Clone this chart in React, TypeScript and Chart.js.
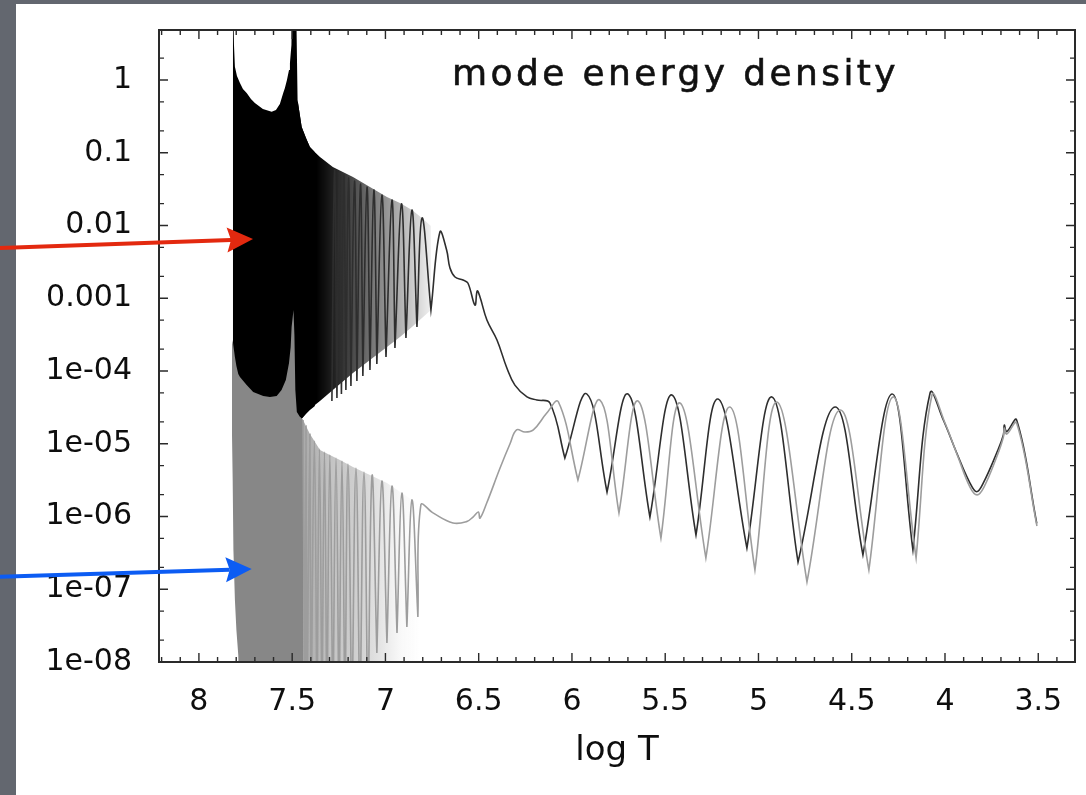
import { useEffect, useRef } from 'react';
import { Chart, registerables } from 'chart.js';

Chart.register(...registerables);

// ---------- axes ----------
const X_MIN = 3.303;
const X_MAX = 8.214;
const Y_MIN = 1e-8;
const Y_MAX = 4.87;
const xTickValues = [8, 7.5, 7, 6.5, 6, 5.5, 5, 4.5, 4, 3.5];
const xTickLabels = ['8', '7.5', '7', '6.5', '6', '5.5', '5', '4.5', '4', '3.5'];
const yTickValues = [1e-8, 1e-7, 1e-6, 1e-5, 1e-4, 1e-3, 1e-2, 1e-1, 1];
const yTickLabels = ['1e-08', '1e-07', '1e-06', '1e-05', '1e-04', '0.001', '0.01', '0.1', '1'];

// off-scale sentinels (clipped by the chart area)
const ABOVE = 20;
const BELOW = 1e-9;

// ---------- black mode: unresolved (dense) band ----------
const blackDenseX = [7.818, 7.812, 7.807, 7.796, 7.780, 7.764, 7.744, 7.721, 7.700, 7.657, 7.610, 7.587, 7.566,
  7.548, 7.539, 7.528, 7.517, 7.512, 7.504, 7.500, 7.480, 7.471, 7.449, 7.426, 7.405, 7.378];
const blackDenseTop = [ABOVE, 3.03, 1.52, 1.135, 0.91, 0.752, 0.662, 0.548, 0.483, 0.399, 0.366, 0.387, 0.468,
  0.662, 0.776, 1.0, 1.37, 1.71, 3.03, ABOVE, ABOVE, 0.531, 0.226, 0.160, 0.120, 0.102];
const blackDenseBottom = [1.13e-5, 1.13e-5, 1.13e-5, 1.13e-5, 1.13e-5, 1.13e-5, 1.13e-5, 1.13e-5, 1.13e-5, 1.13e-5,
  1.13e-5, 1.13e-5, 1.13e-5, 1.13e-5, 1.13e-5, 1.13e-5, 1.13e-5, 1.13e-5, 1.13e-5, 1.13e-5, 1.13e-5,
  1.81e-5, 2.2e-5, 2.56e-5, 2.91e-5, 3.30e-5];

// ---------- black mode: partly resolved band (envelopes) ----------
const blackFadeX = [7.471, 7.449, 7.426, 7.405, 7.378, 7.351, 7.282, 7.174, 7.083, 6.992, 6.922, 6.858, 6.804, 6.756];
const blackFadeTop = [0.531, 0.226, 0.160, 0.120, 0.102, 0.0875, 0.0637, 0.0465, 0.0338, 0.0247, 0.0204, 0.0163, 0.0127, 0.00984];
const blackFadeBottom = [2.26e-5, 2.2e-5, 2.65e-5, 2.96e-5, 3.41e-5, 3.87e-5, 5.5e-5, 9.4e-5, 1.42e-4, 2.14e-4, 2.93e-4,
  4.03e-4, 5.36e-4, 6.89e-4];

// ---------- black mode: resolved curve ----------
const blackLineX = [7.287, 7.273, 7.260, 7.247, 7.236, 7.223, 7.212, 7.198, 7.185, 7.166, 7.153, 7.134, 7.121, 7.099,
  7.083, 7.062, 7.046, 7.019, 6.997, 6.965, 6.949, 6.914, 6.890, 6.858, 6.831, 6.804, 6.756, 6.708,
  6.672, 6.654, 6.627, 6.584, 6.558, 6.520, 6.508, 6.493, 6.456, 6.402, 6.349, 6.306, 6.241, 6.188, 6.118,
  6.038, 5.920, 5.812, 5.700, 5.582, 5.464, 5.335, 5.217, 5.062, 4.928, 4.788, 4.590, 4.440, 4.284, 4.172, 4.080,
  4.009, 3.937, 3.866, 3.830, 3.795, 3.723, 3.687, 3.682, 3.669, 3.616, 3.508];
const blackLineY = [3.87e-5, 0.0580, 4.26e-5, 0.0527, 4.83e-5, 0.0494, 5.5e-5, 0.0450, 6.22e-5, 0.0409, 7.30e-5, 0.0372,
  8.53e-5, 0.0338, 1.03e-4, 0.0308, 1.25e-4, 0.0262, 1.56e-4, 0.0224, 2.07e-4, 0.0198, 2.84e-4, 0.0163, 4.03e-4,
  0.0127, 6.89e-4, 0.00815,
  0.0046, 0.0026, 0.00196, 0.00178, 0.00162, 8.07e-4, 0.00126, 0.00104, 5.02e-4, 2.67e-4, 1.10e-4, 6.4e-5, 4.40e-5,
  3.99e-5, 3.63e-5,
  6.37e-6, 4.83e-5, 2.17e-6, 4.83e-5, 9.84e-7, 4.68e-5, 5.57e-7, 4.12e-5, 3.69e-7, 4.40e-5, 2.37e-7, 3.20e-5,
  2.96e-7, 4.83e-5, 3.47e-7, 4.99e-5,
  2.12e-5, 7.46e-6, 2.88e-6, 2.19e-6, 2.88e-6, 7.46e-6, 1.32e-5, 1.81e-5, 1.47e-5, 2.12e-5, 8.07e-7];

// ---------- gray mode: unresolved (dense) band ----------
const grayDenseX = [7.823, 7.819, 7.815, 7.807, 7.799, 7.789, 7.780, 7.744, 7.709, 7.655, 7.619, 7.583, 7.557, 7.534,
  7.517, 7.508, 7.503, 7.493, 7.488, 7.483, 7.475, 7.458, 7.442];
const grayDenseTop = [2.27e-4, 2.67e-4, 2.21e-4, 1.56e-4, 1.17e-4, 9.1e-5, 8.3e-5, 6.4e-5, 5.14e-5, 4.53e-5, 4.40e-5,
  4.53e-5, 5.5e-5, 7.5e-5, 1.29e-4, 2.14e-4, 4.03e-4, 6.89e-4, 3.13e-4, 5.5e-5, 2.73e-5, 2.33e-5, 2.12e-5];
const grayDenseBottom = [1.55e-5, 3.18e-6, 3.47e-7, 7.1e-8, 2.75e-8, 1.25e-8, BELOW, BELOW, BELOW, BELOW, BELOW, BELOW,
  BELOW, BELOW, BELOW, BELOW, BELOW, BELOW, BELOW, BELOW, BELOW, BELOW, BELOW];

// ---------- gray mode: partly resolved band ----------
const grayFadeX = [7.458, 7.442, 7.426, 7.405, 7.381, 7.351, 7.298, 7.244, 7.174, 7.083, 6.992, 6.912, 6.831, 6.810];
const grayFadeTop = [2.33e-5, 2.12e-5, 1.75e-5, 1.36e-5, 1.09e-5, 8.2e-6, 7.0e-6, 5.98e-6, 4.79e-6, 3.72e-6, 2.88e-6,
  2.10e-6, 1.53e-6, 1.44e-6];
const grayFadeBottom = [BELOW, BELOW, BELOW, BELOW, BELOW, BELOW, BELOW, BELOW, BELOW, BELOW, BELOW, BELOW, BELOW, BELOW];

// ---------- gray mode: resolved curve ----------
const grayLineX = [7.442, 7.432, 7.426, 7.421, 7.405, 7.399, 7.381, 7.367, 7.354, 7.340, 7.327, 7.314, 7.298, 7.282,
  7.265, 7.249, 7.233, 7.217, 7.201, 7.180, 7.158, 7.137, 7.115, 7.094, 7.072, 7.046, 7.019, 6.992, 6.965, 6.938,
  6.912, 6.885, 6.858, 6.826, 6.810,
  6.745, 6.638, 6.565, 6.529, 6.502, 6.493, 6.457, 6.386, 6.332, 6.297, 6.252, 6.207, 6.136, 6.073,
  5.968, 5.850, 5.748, 5.646, 5.523, 5.421, 5.282, 5.153, 5.019, 4.901, 4.740, 4.563, 4.408, 4.279, 4.155, 4.070,
  4.000, 3.930, 3.866, 3.828, 3.791, 3.721, 3.687, 3.682, 3.669, 3.616, 3.507];
const grayLineY = [2.12e-5, BELOW, 1.75e-5, BELOW, 1.36e-5, BELOW, 1.09e-5, BELOW, 8.47e-6, BELOW, 7.71e-6, BELOW,
  7.0e-6, BELOW, 6.37e-6, BELOW, 5.80e-6, BELOW, 5.27e-6, BELOW, 4.65e-6, BELOW, 4.09e-6, BELOW, 3.61e-6, 1.33e-8,
  3.08e-6, 1.82e-8, 2.62e-6, 2.51e-8, 2.10e-6, 3.03e-8, 1.69e-6, 4.16e-8, 1.44e-6,
  1.12e-6, 8.15e-7, 8.5e-7, 9.9e-7, 1.15e-6, 9.5e-7, 1.53e-6, 4.6e-6, 1.0e-5, 1.55e-5, 1.45e-5, 1.55e-5, 2.62e-5, 3.78e-5,
  3.18e-6, 3.99e-5, 1.12e-6, 3.87e-5, 5.06e-7, 3.63e-5, 2.69e-7, 3.20e-5, 1.84e-7, 3.75e-5, 1.26e-7, 2.91e-5,
  1.84e-7, 4.40e-5, 2.69e-7, 4.68e-5,
  1.93e-5, 6.58e-6, 2.54e-6, 1.98e-6, 2.54e-6, 6.79e-6, 1.24e-5, 1.64e-5, 1.36e-5, 1.93e-5, 7.4e-7];

// ---------- arrows (tip / tail in data units) ----------
const arrowTipX = [7.71, 7.717];
const arrowTipY = [6.5e-3, 1.9e-7];
const arrowTailX = [9.07, 9.07];
const arrowTailY = [4.9e-3, 1.49e-7];
const arrowColors = ['#e3290f', '#0c5cf3'];

// fade stops for partly resolved bands: [x, alpha]
const blackFadeStops = [[7.47, 1], [7.37, 1], [7.24, 0.82], [7.08, 0.55], [6.92, 0.3], [6.756, 0.06]];
const grayFadeStops = [[7.458, 1], [7.437, 0.7], [7.298, 0.5], [7.137, 0.38], [7.03, 0.22], [6.922, 0.06], [6.815, 0]];

const FONT = '"DejaVu Sans", "Liberation Sans", sans-serif';

type P = { x: number; y: number };
const pts = (xs: number[], ys: number[]): P[] => xs.map((x, i) => ({ x, y: ys[i] }));

// sharp troughs: repeat the trough point so the spline keeps a cusp there
function withCusps(xs: number[], ys: number[]): P[] {
  const out: P[] = [];
  for (let i = 0; i < xs.length; i++) {
    out.push({ x: xs[i], y: ys[i] });
    if (i > 0 && i < xs.length - 1 && ys[i] * 2.5 < ys[i - 1] && ys[i] * 2.5 < ys[i + 1]) {
      out.push({ x: xs[i], y: ys[i] });
    }
  }
  return out;
}

function fadeColor(stops: number[][], rgb: string) {
  return (c: any) => {
    const chart = c.chart;
    const xs = chart.scales && chart.scales.x;
    if (!chart.chartArea || !xs) return `rgba(${rgb},0.5)`;
    const p0 = xs.getPixelForValue(stops[0][0]);
    const p1 = xs.getPixelForValue(stops[stops.length - 1][0]);
    const g = chart.ctx.createLinearGradient(p0, 0, p1, 0);
    stops.forEach(([v, a]) => {
      const off = (xs.getPixelForValue(v) - p0) / (p1 - p0);
      g.addColorStop(Math.min(1, Math.max(0, off)), `rgba(${rgb},${a})`);
    });
    return g;
  };
}

const helper = (data: P[]) => ({
  data,
  borderWidth: 0,
  borderColor: 'rgba(0,0,0,0)',
  pointRadius: 0,
  fill: false,
});

const noPad = (s: any) => {
  s.paddingTop = 0;
  s.paddingBottom = 0;
  s.paddingLeft = 0;
  s.paddingRight = 0;
};

const framePlugin = {
  id: 'frameTicks',
  afterDraw(chart: any) {
    const { ctx, chartArea: a, scales } = chart;
    const x = scales.x;
    const y = scales.y;
    ctx.save();
    ctx.strokeStyle = '#2a2a2a';
    ctx.lineWidth = 1.4;
    ctx.beginPath();
    const xt = (v: number, len: number) => {
      const px = x.getPixelForValue(v);
      ctx.moveTo(px, a.bottom);
      ctx.lineTo(px, a.bottom - len);
      ctx.moveTo(px, a.top);
      ctx.lineTo(px, a.top + len);
    };
    const yt = (v: number, len: number) => {
      const py = y.getPixelForValue(v);
      ctx.moveTo(a.left, py);
      ctx.lineTo(a.left + len, py);
      ctx.moveTo(a.right, py);
      ctx.lineTo(a.right - len, py);
    };
    xTickValues.forEach((v) => xt(v, 9));
    for (let k = 34; k <= 82; k++) if (k % 5 !== 0) xt(k / 10, 5);
    yTickValues.forEach((v) => yt(v, 9));
    for (let e = -8; e <= 0; e++) {
      [2, 5].forEach((m) => {
        const v = m * Math.pow(10, e);
        if (v < Y_MAX) yt(v, 5);
      });
    }
    ctx.stroke();
    ctx.lineWidth = 2;
    ctx.strokeRect(a.left, a.top, a.right - a.left, a.bottom - a.top);
    ctx.restore();

    // arrows
    ctx.save();
    arrowTipX.forEach((tx, i) => {
      const x1 = x.getPixelForValue(tx);
      const y1 = y.getPixelForValue(arrowTipY[i]);
      const x0 = x.getPixelForValue(arrowTailX[i]);
      const y0 = y.getPixelForValue(arrowTailY[i]);
      const dx = x1 - x0;
      const dy = y1 - y0;
      const len = Math.hypot(dx, dy);
      const ux = dx / len;
      const uy = dy / len;
      const nx = -uy;
      const ny = ux;
      const headLen = 26;
      const headHalf = 12.5;
      const bx = x1 - ux * headLen;
      const by = y1 - uy * headLen;
      ctx.strokeStyle = arrowColors[i];
      ctx.fillStyle = arrowColors[i];
      ctx.lineWidth = 4;
      ctx.beginPath();
      ctx.moveTo(x0, y0);
      ctx.lineTo(bx + ux * 4, by + uy * 4);
      ctx.stroke();
      ctx.beginPath();
      ctx.moveTo(x1, y1);
      ctx.lineTo(bx + nx * headHalf, by + ny * headHalf);
      ctx.lineTo(bx + ux * 4, by + uy * 4);
      ctx.lineTo(bx - nx * headHalf, by - ny * headHalf);
      ctx.closePath();
      ctx.fill();
    });
    ctx.restore();
  },
};

export default function App() {
  const ref = useRef<HTMLCanvasElement | null>(null);

  useEffect(() => {
    if (!ref.current) return;
    const chart = new Chart(ref.current, {
      type: 'line',
      data: {
        datasets: [
          // 0 gray resolved curve (top-most)
          {
            data: withCusps(grayLineX, grayLineY),
            borderColor: '#9d9d9d',
            borderWidth: 1.6,
            pointRadius: 0,
            tension: 0.4,
            fill: false,
          },
          // 1-2 gray partly resolved band
          { ...helper(pts(grayFadeX, grayFadeTop)), fill: '+1', backgroundColor: fadeColor(grayFadeStops, '135,135,135') },
          helper(pts(grayFadeX, grayFadeBottom)),
          // 3-4 gray dense band
          { ...helper(pts(grayDenseX, grayDenseTop)), fill: '+1', backgroundColor: '#878787' },
          helper(pts(grayDenseX, grayDenseBottom)),
          // 5 black resolved curve
          {
            data: withCusps(blackLineX, blackLineY),
            borderColor: '#2e2e2e',
            borderWidth: 1.6,
            pointRadius: 0,
            tension: 0.4,
            fill: false,
          },
          // 6-7 black partly resolved band
          { ...helper(pts(blackFadeX, blackFadeTop)), fill: '+1', backgroundColor: fadeColor(blackFadeStops, '0,0,0') },
          helper(pts(blackFadeX, blackFadeBottom)),
          // 8-9 black dense band
          { ...helper(pts(blackDenseX, blackDenseTop)), fill: '+1', backgroundColor: '#000000' },
          helper(pts(blackDenseX, blackDenseBottom)),
        ] as any,
      },
      options: {
        responsive: false,
        animation: false,
        devicePixelRatio: 1,
        events: [],
        layout: { autoPadding: false, padding: { left: 0, top: 30, right: 11, bottom: 0 } },
        plugins: {
          legend: { display: false },
          tooltip: { enabled: false },
        },
        elements: { point: { radius: 0 } },
        scales: {
          x: {
            type: 'linear',
            reverse: true,
            min: X_MIN,
            max: X_MAX,
            afterFit: (s: any) => {
              s.height = 133;
              noPad(s);
            },
            afterBuildTicks: (s: any) => {
              s.ticks = xTickValues.map((v) => ({ value: v }));
            },
            grid: { display: false, drawTicks: false },
            border: { display: false },
            ticks: {
              font: { family: FONT, size: 30 },
              color: '#0e0e0e',
              padding: 22,
              autoSkip: false,
              maxRotation: 0,
              includeBounds: false,
              callback: (_v: any, i: number) => xTickLabels[i],
            },
            title: {
              display: true,
              text: 'log T',
              font: { family: FONT, size: 34 },
              color: '#0e0e0e',
              padding: { top: 0, bottom: 23 },
            },
          },
          y: {
            type: 'logarithmic',
            min: Y_MIN,
            max: Y_MAX,
            afterFit: (s: any) => {
              s.width = 159;
              noPad(s);
            },
            afterBuildTicks: (s: any) => {
              s.ticks = yTickValues.map((v) => ({ value: v }));
            },
            grid: { display: false, drawTicks: false },
            border: { display: false },
            ticks: {
              font: { family: FONT, size: 30 },
              color: '#0e0e0e',
              padding: 27,
              autoSkip: false,
              callback: (_v: any, i: number) => yTickLabels[i],
            },
          },
        },
      } as any,
      plugins: [framePlugin],
    });
    return () => chart.destroy();
  }, []);

  return (
    <div
      style={{
        position: 'absolute',
        left: 0,
        top: 0,
        width: 1086,
        height: 795,
        background: '#63676f',
        overflow: 'hidden',
      }}
    >
      <div style={{ position: 'absolute', left: 16, top: 4, width: 1070, height: 791, background: '#ffffff' }} />
      <canvas
        ref={ref}
        width={1086}
        height={795}
        style={{ position: 'absolute', left: 0, top: 0, width: 1086, height: 795 }}
      />
      <div
        style={{
          position: 'absolute',
          left: 452,
          top: 52,
          fontFamily: FONT,
          fontSize: 36,
          lineHeight: '42px',
          letterSpacing: '3.4px',
          color: '#111111',
          WebkitTextStroke: '0.6px #111111',
          whiteSpace: 'nowrap',
        }}
      >
        mode energy density
      </div>
    </div>
  );
}
